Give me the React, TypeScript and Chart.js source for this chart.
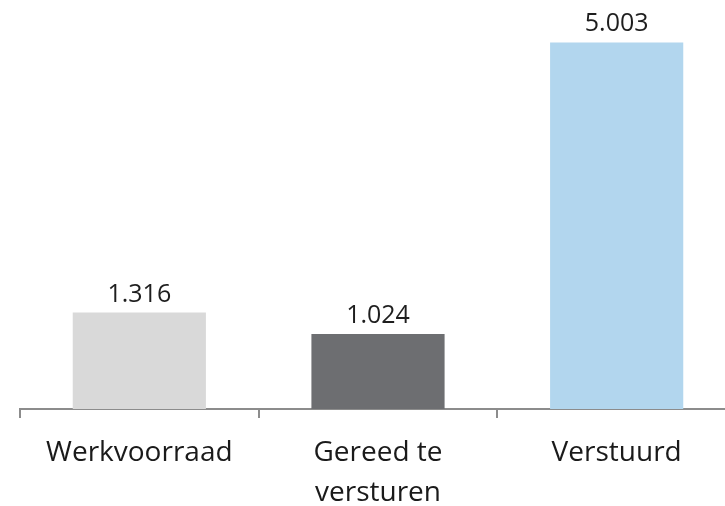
import React, { useEffect, useRef } from "react";
import { Chart, registerables } from "chart.js";

Chart.register(...registerables);

const categories: (string | string[])[] = ["Werkvoorraad", ["Gereed te", "versturen"], "Verstuurd"];
const values: number[] = [1316, 1024, 5003];
const barColors: string[] = ["#d9d9d9", "#6d6e71", "#b2d6ee"];

const fmt = (v: number) => {
  const s = String(Math.round(v));
  return s.replace(/\B(?=(\d{3})+(?!\d))/g, ".");
};

const labelPlugin = {
  id: "barValueLabels",
  afterDatasetsDraw(chart: any) {
    const ctx = chart.ctx;
    const meta = chart.getDatasetMeta(0);
    ctx.save();
    ctx.font = "25px 'Open Sans'";
    ctx.fillStyle = "#1e1e1e";
    ctx.textAlign = "center";
    ctx.textBaseline = "alphabetic";
    meta.data.forEach((el: any, i: number) => {
      ctx.fillText(fmt(values[i]), el.x, el.y - 11);
    });
    ctx.restore();
  },
};

export default function App() {
  const ref = useRef<HTMLCanvasElement | null>(null);
  useEffect(() => {
    document.body.style.margin = "0";
    document.body.style.overflow = "hidden";
    if (!ref.current) return;
    const chart = new Chart(ref.current, {
      type: "bar",
      data: {
        labels: categories,
        datasets: [
          {
            data: values,
            backgroundColor: barColors,
            borderWidth: 0,
            categoryPercentage: 1,
            barPercentage: 0.558,
          },
        ],
      },
      options: {
        animation: false,
        responsive: false,
        maintainAspectRatio: false,
        layout: { padding: { top: 6, left: 20, right: 0, bottom: 0 } },
        plugins: { legend: { display: false }, tooltip: { enabled: false } },
        scales: {
          x: {
            offset: true,
            grid: {
              display: true,
              offset: true,
              drawOnChartArea: false,
              drawTicks: true,
              tickLength: 9,
              color: "#8c8c8c",
              lineWidth: 2,
            },
            border: { display: true, color: "#8c8c8c", width: 2 },
            ticks: {
              color: "#1a1a1a",
              padding: 15,
              maxRotation: 0,
              autoSkip: false,
              font: { family: "'Open Sans'", size: 28, lineHeight: 1.43 },
            },
          },
          y: {
            display: false,
            min: 0,
            max: 5500,
          },
        },
      },
      plugins: [labelPlugin],
    });
    return () => chart.destroy();
  }, []);
  return (
    <div style={{ width: 725, height: 506, overflow: "hidden", position: "relative" }}>
      <canvas ref={ref} width={736} height={528} style={{ display: "block" }} />
    </div>
  );
}
